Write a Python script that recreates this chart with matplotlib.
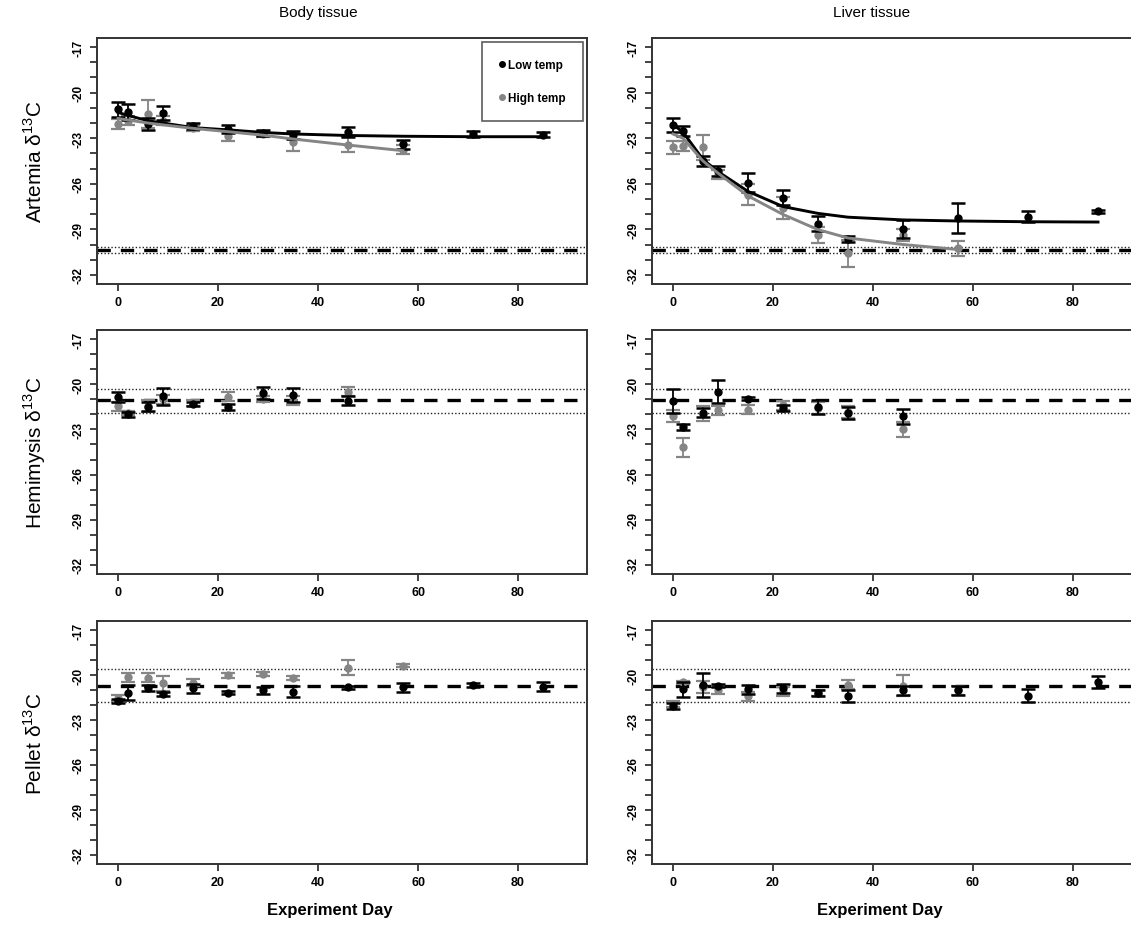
import matplotlib
matplotlib.use("Agg")
import matplotlib.pyplot as plt
from matplotlib.lines import Line2D

plt.rcParams['font.family'] = ['Liberation Sans', 'DejaVu Sans']
plt.rcParams['axes.unicode_minus'] = False
plt.rcParams['mathtext.fontset'] = 'custom'
plt.rcParams['mathtext.rm'] = 'Liberation Sans'

# --- data ---
days_low = [0, 2, 6, 9, 15, 22, 29, 35, 46, 57, 71, 85]
days_high = [0, 2, 6, 9, 15, 22, 29, 35, 46, 57]
days_hem = [0, 2, 6, 9, 15, 22, 29, 35, 46]

# Artemia, body tissue
body_art_low = [-21.1, -21.28, -22.05, -21.35, -22.2, -22.39, -22.64, -22.77, -22.61, -23.39, -22.72, -22.77]
body_art_low_err = [0.5, 0.55, 0.4, 0.45, 0.2, 0.25, 0.2, 0.25, 0.33, 0.3, 0.2, 0.15]
body_art_high = [-22.06, -21.84, -21.4, -21.84, -22.34, -22.84, -22.72, -23.27, -23.43, -23.77]
body_art_high_err = [0.3, 0.3, 0.9, 0.3, 0.2, 0.35, 0.2, 0.6, 0.5, 0.3]
body_fit_low = [-21.3, -21.5, -21.85, -22.0, -22.3, -22.45, -22.62, -22.72, -22.82, -22.87, -22.9, -22.9]
body_fit_high = [-21.7, -21.8, -22.0, -22.12, -22.35, -22.57, -22.8, -23.05, -23.45, -23.82]

# Artemia, liver tissue
liver_art_low = [-22.12, -22.5, -24.5, -25.16, -25.94, -26.93, -28.64, -29.66, -28.99, -28.27, -28.16, -27.82]
liver_art_low_err = [0.46, 0.33, 0.3, 0.3, 0.62, 0.5, 0.5, 0.2, 0.6, 1.0, 0.35, 0.1]
liver_art_high = [-23.61, -23.5, -23.61, -25.4, -26.71, -27.6, -29.37, -30.59, -29.4, -30.26]
liver_art_high_err = [0.4, 0.35, 0.84, 0.3, 0.7, 0.7, 0.5, 0.9, 0.4, 0.5]
liver_fit_low = [-22.1, -22.6, -24.4, -25.2, -26.5, -27.5, -27.95, -28.2, -28.38, -28.45, -28.5, -28.52]
liver_fit_high = [-22.72, -23.0, -24.5, -25.3, -26.8, -28.02, -29.02, -29.57, -30.0, -30.33]

# Hemimysis
body_hem_low = [-20.84, -22.0, -21.5, -20.8, -21.3, -21.5, -20.57, -20.73, -21.1]
body_hem_low_err = [0.35, 0.15, 0.3, 0.55, 0.15, 0.2, 0.4, 0.45, 0.3]
body_hem_high = [-21.46, -21.9, -21.46, -21.0, -21.24, -20.84, -21.0, -21.1, -20.5]
body_hem_high_err = [0.3, 0.15, 0.4, 0.3, 0.2, 0.3, 0.2, 0.3, 0.3]
liver_hem_low = [-21.12, -22.83, -21.9, -20.5, -20.95, -21.55, -21.5, -21.9, -22.12]
liver_hem_low_err = [0.8, 0.2, 0.3, 0.75, 0.1, 0.2, 0.45, 0.4, 0.5]
liver_hem_high = [-22.12, -24.2, -21.95, -21.73, -21.7, -21.4, -21.6, -21.84, -23.0]
liver_hem_high_err = [0.4, 0.6, 0.5, 0.3, 0.3, 0.3, 0.4, 0.4, 0.5]

# Pellet
body_pel_low = [-21.72, -21.17, -20.88, -21.28, -20.88, -21.17, -21.03, -21.1, -20.81, -20.81, -20.66, -20.77]
body_pel_low_err = [0.15, 0.5, 0.2, 0.15, 0.3, 0.1, 0.25, 0.35, 0.1, 0.3, 0.15, 0.3]
body_pel_high = [-21.55, -20.15, -20.17, -20.55, -20.5, -20.03, -19.93, -20.21, -19.5, -19.39]
body_pel_high_err = [0.2, 0.3, 0.3, 0.5, 0.25, 0.15, 0.15, 0.15, 0.5, 0.1]
liver_pel_low = [-22.05, -20.95, -20.66, -20.7, -20.95, -20.88, -21.2, -21.37, -21.0, -21.0, -21.37, -20.48]
liver_pel_low_err = [0.2, 0.5, 0.8, 0.1, 0.3, 0.3, 0.2, 0.4, 0.3, 0.3, 0.45, 0.4]
liver_pel_high = [-21.95, -20.48, -20.77, -21.0, -21.43, -21.1, -21.21, -20.66, -20.7, -21.0]
liver_pel_high_err = [0.2, 0.1, 0.4, 0.25, 0.3, 0.3, 0.2, 0.3, 0.7, 0.3]

# diet reference values (mean, upper, lower)
art_ref = [-30.37, -30.15, -30.59]
hem_ref = [-21.02, -20.29, -21.89]
pel_ref = [-20.71, -19.6, -21.82]

row_labels = ['Artemia', 'Hemimysis', 'Pellet']
col_titles = ['Body tissue', 'Liver tissue']
y_ticks = list(range(-32, -16))
y_shown = [-17, -20, -23, -26, -29, -32]
x_ticks = [0, 20, 40, 60, 80]

GREY = '#858585'

W, H = 1131, 929
fig = plt.figure(figsize=(W / 100, H / 100), dpi=100)

col_x = [97, 652]
col_w = 490
row_y = [(39, 285), (331, 575), (622, 865)]

panels = [
    [(body_art_low, body_art_low_err, days_low, body_art_high, body_art_high_err, days_high, body_fit_low, body_fit_high, art_ref),
     (liver_art_low, liver_art_low_err, days_low, liver_art_high, liver_art_high_err, days_high, liver_fit_low, liver_fit_high, art_ref)],
    [(body_hem_low, body_hem_low_err, days_hem, body_hem_high, body_hem_high_err, days_hem, None, None, hem_ref),
     (liver_hem_low, liver_hem_low_err, days_hem, liver_hem_high, liver_hem_high_err, days_hem, None, None, hem_ref)],
    [(body_pel_low, body_pel_low_err, days_low, body_pel_high, body_pel_high_err, days_high, None, None, pel_ref),
     (liver_pel_low, liver_pel_low_err, days_low, liver_pel_high, liver_pel_high_err, days_high, None, None, pel_ref)],
]

for r in range(3):
    top, bot = row_y[r]
    for c in range(2):
        ax = fig.add_axes([col_x[c] / W, 1 - bot / H, col_w / W, (bot - top) / H])
        low, low_e, dl, high, high_e, dh, fit_l, fit_h, ref = panels[r][c]

        # diet mean (dashed) and +/- SD (dotted)
        ax.axhline(ref[0], color='black', lw=2.4, ls=(0, (4, 3)), zorder=1)
        ax.axhline(ref[1], color='#222222', lw=1.0, ls=(0, (1, 1.5)), zorder=1)
        ax.axhline(ref[2], color='#222222', lw=1.0, ls=(0, (1, 1.5)), zorder=1)

        ax.errorbar(dh, high, yerr=high_e, fmt='o', color=GREY, ms=5,
                    elinewidth=1.3, capsize=5, capthick=1.6, zorder=3)
        ax.errorbar(dl, low, yerr=low_e, fmt='o', color='black', ms=5,
                    elinewidth=1.3, capsize=5, capthick=1.8, zorder=4)
        if fit_l is not None:
            ax.plot(dl, fit_l, color='black', lw=2.1, zorder=5)
            ax.plot(dh, fit_h, color=GREY, lw=2.1, zorder=5)

        ax.set_xlim(-4.2, 93.8)
        ax.set_ylim(-32.6, -16.4)
        ax.set_yticks(y_ticks)
        ax.set_yticklabels([str(t) if t in y_shown else '' for t in y_ticks],
                           rotation=90, va='center', fontsize=8.5, fontweight='bold')
        ax.set_xticks(x_ticks)
        ax.set_xticklabels([str(t) for t in x_ticks], fontsize=9, fontweight='bold')
        ax.tick_params(axis='both', length=5, width=1.2, color='#222222', pad=4)
        for s in ax.spines.values():
            s.set_linewidth(1.4)
            s.set_color('#333333')

        if r == 0 and c == 0:
            handles = [Line2D([], [], ls='', marker='o', ms=4, color='black'),
                       Line2D([], [], ls='', marker='o', ms=4, color=GREY)]
            leg = ax.legend(handles, ['Low temp', 'High temp'], loc='upper right',
                            prop={'weight': 'bold', 'size': 8.5}, frameon=True, fancybox=False,
                            edgecolor='#333333', borderpad=1.45, labelspacing=1.75,
                            handletextpad=0.25, handlelength=0.5, borderaxespad=0.35)
            leg.get_frame().set_linewidth(1.2)

    fig.text(35 / W, 1 - (top + bot) / 2 / H, row_labels[r] + ' \u03b4$^{13}$C',
             rotation=90, ha='center', va='center', fontsize=15)

fig.text(318 / W, 1 - 13 / H, col_titles[0], ha='center', va='center', fontsize=11)
fig.text(872 / W, 1 - 13 / H, col_titles[1], ha='center', va='center', fontsize=11)
fig.text(330 / W, 1 - 911 / H, 'Experiment Day', ha='center', va='center', fontsize=12, fontweight='bold')
fig.text(880 / W, 1 - 911 / H, 'Experiment Day', ha='center', va='center', fontsize=12, fontweight='bold')

plt.savefig('out.png', dpi=100)
